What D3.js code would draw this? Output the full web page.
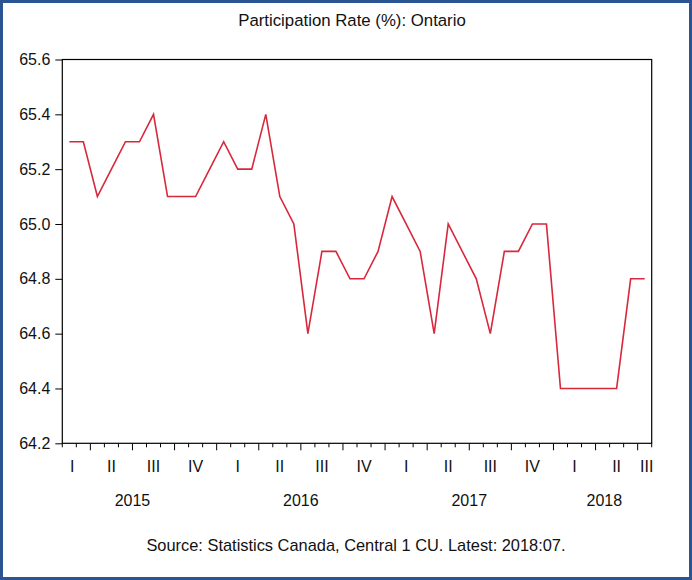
<!DOCTYPE html>
<html>
<head>
<meta charset="utf-8">
<script src="https://cdn.jsdelivr.net/npm/d3@7"></script>
<style>
  html, body { margin: 0; padding: 0; background: #fff; }
  svg { display: block; }
  text { font-family: "Liberation Sans", Arial, sans-serif; fill: #111; }
</style>
</head>
<body>
<svg id="chart" width="692" height="580"></svg>
<script>
// ---- data ----
const title = "Participation Rate (%): Ontario";
const source = "Source: Statistics Canada, Central 1 CU. Latest: 2018:07.";
const firstMonth = "2015-02";
const lastMonth = "2018-07";
const values = [
  65.3, 65.3, 65.1, 65.2, 65.3, 65.3, 65.4, 65.1, 65.1, 65.1, 65.2,
  65.3, 65.2, 65.2, 65.4, 65.1, 65.0, 64.6, 64.9, 64.9, 64.8, 64.8, 64.9,
  65.1, 65.0, 64.9, 64.6, 65.0, 64.9, 64.8, 64.6, 64.9, 64.9, 65.0, 65.0,
  64.4, 64.4, 64.4, 64.4, 64.4, 64.8, 64.8
];
const yTicks = [64.2, 64.4, 64.6, 64.8, 65.0, 65.2, 65.4, 65.6];
const quarterLabels = ["I", "II", "III", "IV"];
const years = [2015, 2016, 2017, 2018];

// ---- layout ----
const W = 692, H = 580;
const plot = { left: 62.3, right: 651.7, top: 59.5, bottom: 443.3 };

const parse = d3.timeParse("%Y-%m");
const t0 = parse(firstMonth), t1 = parse(lastMonth);
const baseYear = years[0];
const mIndex = d => (d.getFullYear() - baseYear) * 12 + d.getMonth();
const months = d3.timeMonth.range(t0, d3.timeMonth.offset(t1, 1));
const data = months.map((d, i) => ({ m: mIndex(d), v: values[i] }));
const mMin = mIndex(t0), mMax = mIndex(t1);

const x = d3.scaleLinear().domain([mMin - 0.5, mMax + 0.5]).range([plot.left, plot.right]);
const y = d3.scaleLinear().domain([d3.min(yTicks), d3.max(yTicks)]).range([plot.bottom, plot.top]);

const svg = d3.select("#chart");

// outer frame
svg.append("rect").attr("x", 1.5).attr("y", 1.5).attr("width", W - 3).attr("height", H - 3)
  .attr("fill", "#fff").attr("stroke", "#2b5592").attr("stroke-width", 3);

// title
svg.append("text").attr("x", 352).attr("y", 25.5).attr("text-anchor", "middle")
  .attr("font-size", 16.8).text(title);

// y axis
const yAxis = d3.axisLeft(y).tickValues(yTicks).tickFormat(d3.format(".1f")).tickSize(7).tickPadding(5);
const gy = svg.append("g").attr("transform", `translate(${plot.left},0)`).call(yAxis);
gy.select(".domain").remove();
gy.selectAll("text").attr("font-size", 16).attr("font-family", "Liberation Sans, Arial, sans-serif").attr("fill", "#111");
gy.selectAll("line").attr("stroke", "#000");

// x axis ticks (month boundaries, quarter boundaries longer)
const monthBounds = d3.range(mMin, mMax + 1).map(m => m + 0.5).concat([mMin - 0.5]);
const gx = svg.append("g").attr("transform", `translate(0,${plot.bottom})`);
gx.selectAll("line.tick").data(monthBounds).join("line")
  .attr("x1", d => x(d)).attr("x2", d => x(d))
  .attr("y1", 0)
  .attr("y2", d => ((d + 0.5) % 3 === 0) ? 7 : 4)
  .attr("stroke", "#000").attr("stroke-width", 1);

// quarter labels
const quarters = [];
for (let q = Math.floor(mMin / 3); q <= Math.floor(mMax / 3); q++) {
  const a = q * 3 - 0.5, b = q * 3 + 2.5;
  let c = x((a + b) / 2);
  c = Math.max(plot.left + 10, Math.min(plot.right - 5, c));
  quarters.push({ label: quarterLabels[((q % 4) + 4) % 4], cx: c });
}
gx.selectAll("text.q").data(quarters).join("text")
  .attr("class", "q").attr("x", d => d.cx).attr("y", 29)
  .attr("text-anchor", "middle").attr("font-size", 16).text(d => d.label);

// year labels
gx.selectAll("text.yr").data(years).join("text")
  .attr("class", "yr")
  .attr("x", yr => {
    const a = Math.max(mMin - 1.5, (yr - baseYear) * 12 - 0.5);
    const b = Math.min(mMax + 0.75, (yr - baseYear) * 12 + 11.5);
    return x((a + b) / 2);
  })
  .attr("y", 63).attr("text-anchor", "middle").attr("font-size", 16).text(d => d);

// plot box
svg.append("rect").attr("x", plot.left).attr("y", plot.top)
  .attr("width", plot.right - plot.left).attr("height", plot.bottom - plot.top)
  .attr("fill", "none").attr("stroke", "#000").attr("stroke-width", 1.2);

// line
const line = d3.line().x(d => x(d.m)).y(d => y(d.v));
svg.append("path").datum(data).attr("d", line)
  .attr("fill", "none").attr("stroke", "#d8283c").attr("stroke-width", 1.6)
  .attr("stroke-linejoin", "miter");

// source
svg.append("text").attr("x", 356).attr("y", 551).attr("text-anchor", "middle")
  .attr("font-size", 16.4).text(source);
</script>
</body>
</html>
